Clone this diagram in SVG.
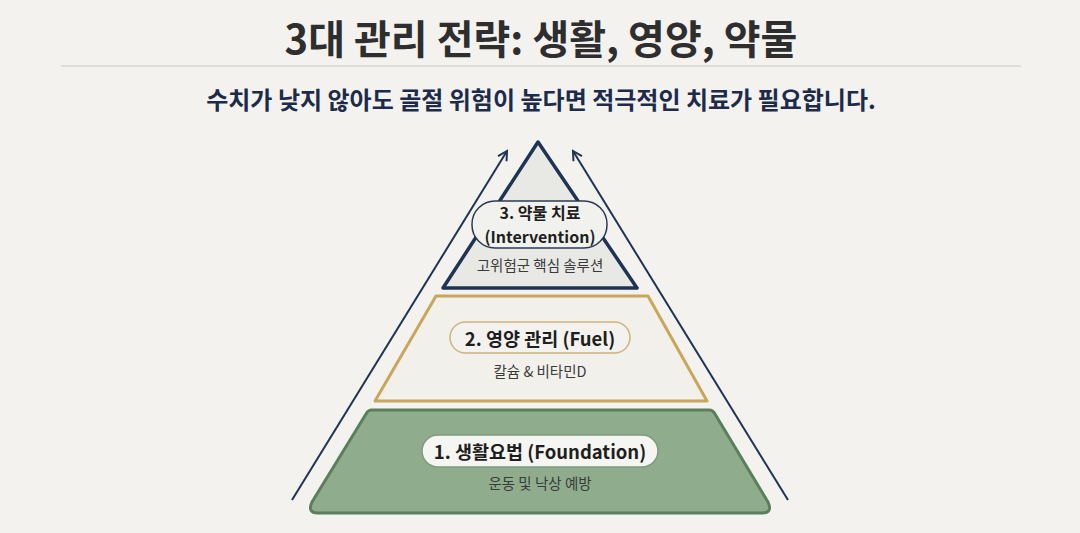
<svg xmlns="http://www.w3.org/2000/svg" width="1080" height="533" viewBox="0 0 1080 533">
<defs>
<style>
text{font-family:"Noto Sans CJK KR","Noto Sans",sans-serif;text-anchor:middle;dominant-baseline:central}
.title{font-size:40px;font-weight:700;fill:#2e2e2e}
.sub{font-size:24px;font-weight:700;fill:#1c2b4a}
.lbl{font-size:18.5px;font-weight:700;fill:#1e1e1e}
.desc{font-size:14.5px;font-weight:400;fill:#3a3a3a}
.conn{stroke:#1f3355;stroke-width:2;fill:none}
</style>
<marker id="ah" viewBox="0 0 12 12" refX="10" refY="6" markerWidth="12" markerHeight="12" markerUnits="userSpaceOnUse" orient="auto">
<path d="M1,1 L10,6 L1,11" fill="none" stroke="#1f3355" stroke-width="2"/>
</marker>
</defs>
<rect width="1080" height="533" fill="#f3f2ee"/>
<text class="title" x="541" y="37">3대 관리 전략: 생활, 영양, 약물</text>
<line x1="61" y1="66" x2="1021" y2="66" stroke="#c9c8c3" stroke-width="1.2"/>
<text class="sub" x="541" y="98">수치가 낮지 않아도 골절 위험이 높다면 적극적인 치료가 필요합니다.</text>
<g id="connectors">
<line class="conn" x1="292" y1="500" x2="507" y2="151" marker-end="url(#ah)"/>
<line class="conn" x1="788" y1="500" x2="573" y2="151" marker-end="url(#ah)"/>
</g>
<g id="tier3">
<path d="M538,142 L637,288 L443,288 Z" fill="#e8e8e5" stroke="#1f3355" stroke-width="3.5" stroke-linejoin="round"/>
<rect x="472" y="201" width="135" height="47" rx="23" fill="#f1f1ee" stroke="#2a3a55" stroke-width="1.5"/>
<text class="lbl" x="540" y="212" font-size="16px" style="font-size:16px">3. 약물 치료</text>
<text class="lbl" x="540" y="236" style="font-size:16px">(Intervention)</text>
<text class="desc" x="540" y="264">고위험군 핵심 솔루션</text>
</g>
<g id="tier2">
<path d="M436,296 L648,296 L707,401 L375,401 Z" fill="#f1f0eb" stroke="#c8a65a" stroke-width="3" stroke-linejoin="round"/>
<rect x="450" y="322" width="180" height="31" rx="15.5" fill="#f3f2ee" stroke="#cdb57a" stroke-width="1.5"/>
<text class="lbl" x="540" y="338">2. 영양 관리 (Fuel)</text>
<text class="desc" x="540" y="370">칼슘 &amp; 비타민D</text>
</g>
<g id="tier1">
<path d="M372,410 L709,410 Q713,410 715,414 L768,502 Q773,513 762,513 L318,513 Q307,513 312,502 L366,414 Q368,410 372,410 Z" fill="#8fad8d" stroke="#5a7f5c" stroke-width="3" stroke-linejoin="round"/>
<rect x="422" y="435" width="236" height="32" rx="16" fill="#f5f5f2" stroke="#7e9a7e" stroke-width="1.5"/>
<text class="lbl" x="540" y="451">1. 생활요법 (Foundation)</text>
<text class="desc" x="540" y="482" fill="#2f3a30">운동 및 낙상 예방</text>
</g>
</svg>
